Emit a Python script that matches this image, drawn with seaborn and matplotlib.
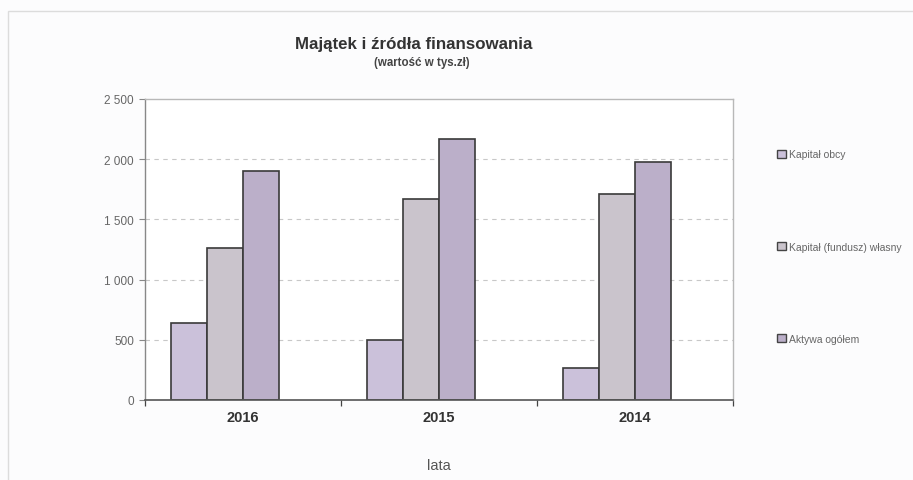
import matplotlib
matplotlib.use("Agg")
import matplotlib.pyplot as plt
import matplotlib.patches as mpatches
from matplotlib.ticker import FuncFormatter, FixedLocator
import pandas as pd
import seaborn as sns

# Data (thousand PLN)
years = ["2016", "2015", "2014"]
kapital_obcy = [640, 498, 266]
kapital_wlasny = [1262, 1669, 1711]
aktywa_ogolem = [1902, 2168, 1977]

series_names = ["Kapitał obcy", "Kapitał (fundusz) własny", "Aktywa ogółem"]
series_colors = ["#cbc1da", "#cac4cc", "#bbafc9"]
# Fourth, empty slot keeps the spreadsheet-style offset of each group
slots = series_names + [""]

rows = []
for name, values in zip(series_names, [kapital_obcy, kapital_wlasny, aktywa_ogolem]):
    for y, v in zip(years, values):
        rows.append({"rok": y, "seria": name, "wartosc": v})
df = pd.DataFrame(rows)

sns.set_theme(style="white")
plt.rcParams["font.family"] = ["Liberation Sans", "DejaVu Sans"]

fig = plt.figure(figsize=(9.13, 4.81), dpi=100, facecolor="#fcfcfd")
ax = fig.add_axes([145 / 913, 1 - 401 / 481, (733 - 145) / 913, (401 - 100) / 481])
ax.set_facecolor("white")

palette = dict(zip(slots, series_colors + ["#ffffff"]))
sns.barplot(
    data=df, x="rok", y="wartosc", hue="seria",
    order=years, hue_order=slots, palette=palette,
    width=0.735, edgecolor="#3a3a3a", linewidth=1.2,
    saturation=1, errorbar=None, legend=False, ax=ax,
)

ax.set_ylim(0, 2500)
ax.set_xlim(-0.5, len(years) - 0.5)
ax.yaxis.set_major_locator(FixedLocator([0, 500, 1000, 1500, 2000, 2500]))
ax.yaxis.set_major_formatter(
    FuncFormatter(lambda v, p: f"{int(v):,}".replace(",", " "))
)
for yv in [500, 1000, 1500, 2000]:
    ax.axhline(yv, color="#c8c8c8", lw=0.8, ls=(0, (4, 4)), zorder=0)

ax.tick_params(axis="y", which="major", length=4, width=0.8, color="#888888",
               labelsize=8.5, labelcolor="#666666", left=True, pad=4)
ax.tick_params(axis="x", which="major", length=0, labelsize=10.5,
               labelcolor="#333333", pad=7)
for lbl in ax.get_xticklabels():
    lbl.set_fontweight("bold")
ax.set_xticks([-0.5, 0.5, 1.5, 2.5], minor=True)
ax.tick_params(axis="x", which="minor", length=4, width=0.9, color="#444444",
               bottom=True)

for side, sp in ax.spines.items():
    sp.set_visible(True)
    sp.set_color("#b8b8b8")
    sp.set_linewidth(1.0)
ax.spines["bottom"].set_color("#555555")
ax.spines["bottom"].set_linewidth(1.2)
ax.spines["left"].set_color("#888888")

ax.set_xlabel("lata", fontsize=10.5, color="#555555", labelpad=25)
ax.set_ylabel("")

fig.text(414 / 913, 1 - 45 / 481, "Majątek i źródła finansowania",
         ha="center", va="center", fontsize=12.2, fontweight="bold",
         color="#333333")
fig.text(422 / 913, 1 - 63 / 481, "(wartość w tys.zł)",
         ha="center", va="center", fontsize=8.3, fontweight="bold",
         color="#444444")

handles = [mpatches.Patch(facecolor=c, edgecolor="#444444", linewidth=1.0,
                          label=n) for n, c in zip(series_names, series_colors)]
fig.legend(handles=handles, loc="upper left",
           bbox_to_anchor=(768 / 913, 1 - 141 / 481), frameon=False,
           fontsize=7.5, labelspacing=7.9, handlelength=0.8, handleheight=0.8,
           handletextpad=0.3, labelcolor="#666666")

# outer frame of the chart sheet
fig.add_artist(mpatches.Rectangle((8 / 913, -0.1), 1.2, 1.1 - 12 / 481,
                                  transform=fig.transFigure, fill=False,
                                  edgecolor="#dcdcdc", linewidth=1.0))

fig.savefig("out.png", dpi=100, facecolor=fig.get_facecolor())
